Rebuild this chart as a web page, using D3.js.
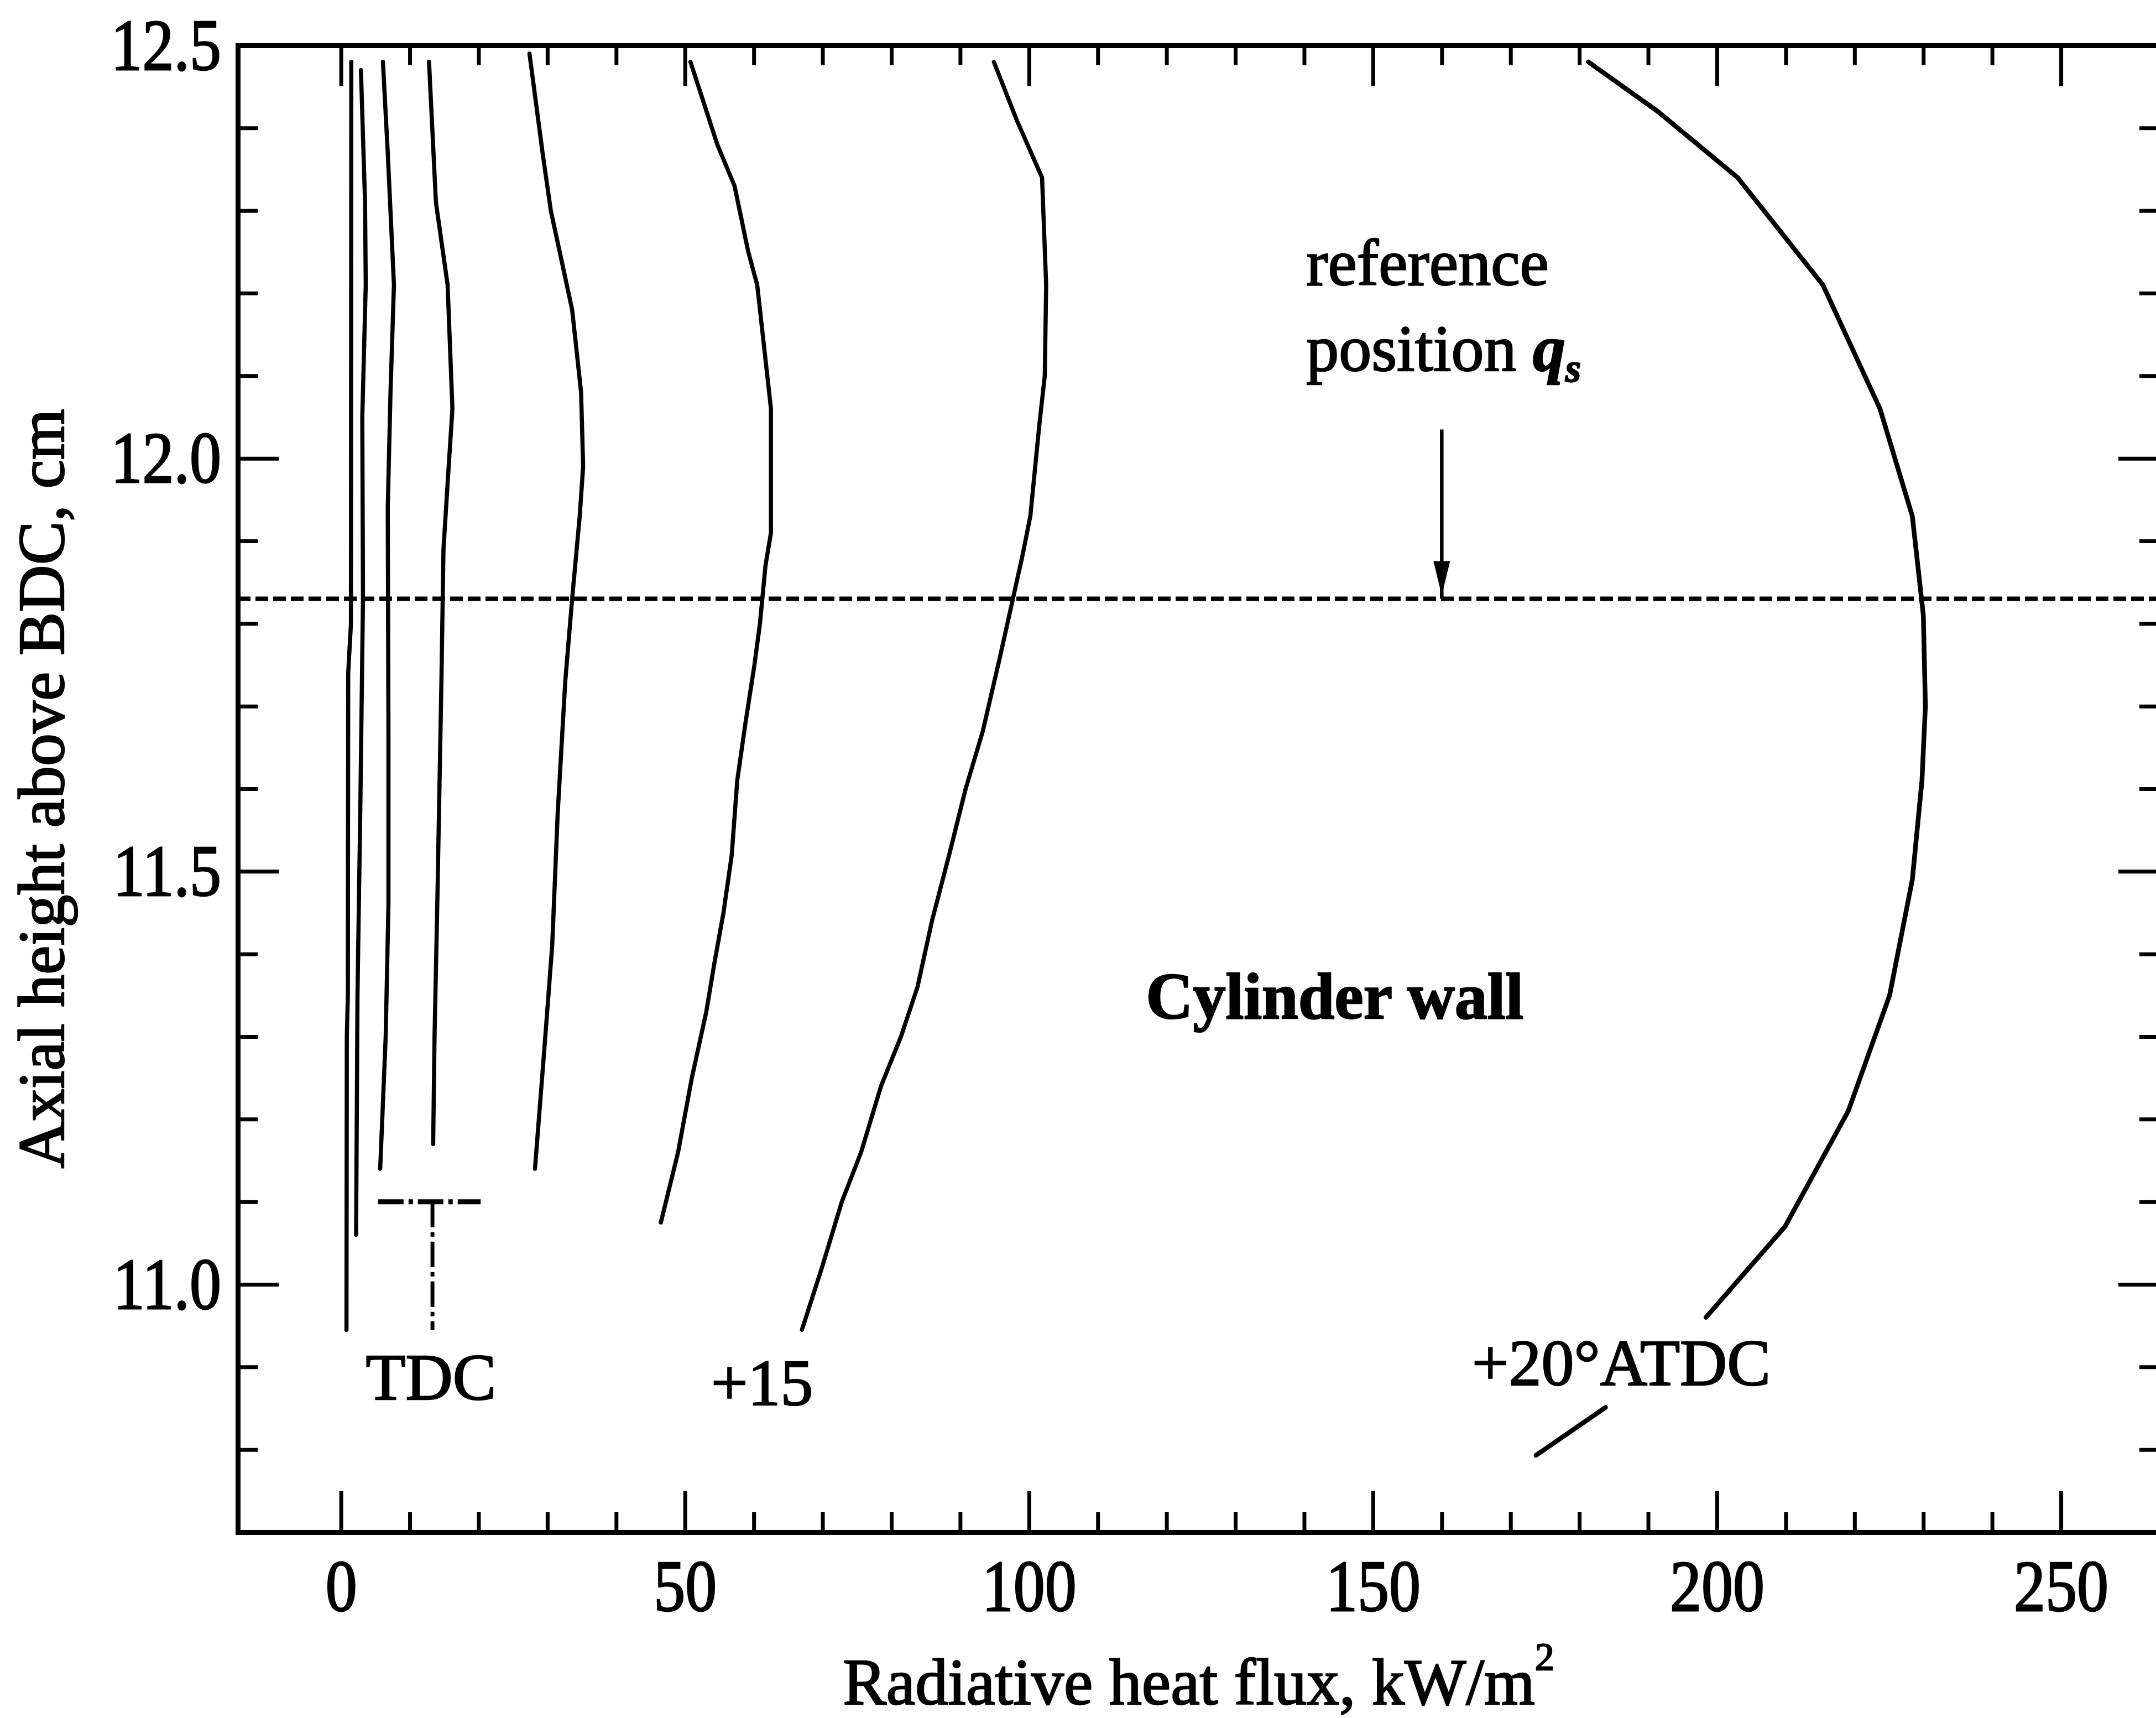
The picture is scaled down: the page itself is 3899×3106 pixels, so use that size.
<!DOCTYPE html>
<html>
<head>
<meta charset="utf-8">
<script src="https://cdn.jsdelivr.net/npm/d3@7"></script>
<style>
  html, body { margin: 0; padding: 0; background: #fff; }
  svg { display: block; }
</style>
</head>
<body>
<script>
// Axial radiative heat-flux profiles on the cylinder wall around TDC.
// Each profile is a list of [flux (kW/m^2), axial height above BDC (cm)].

const xMajorTicks = [0, 50, 100, 150, 200, 250];
const xMinorTicks = [10, 20, 30, 40, 60, 70, 80, 90, 110, 120, 130, 140,
                     160, 170, 180, 190, 210, 220, 230, 240];
const yMajorTicks = [11.0, 11.5, 12.0, 12.5];
const yMinorTicks = [10.8, 10.9, 11.1, 11.2, 11.3, 11.4, 11.6, 11.7, 11.8,
                     11.9, 12.1, 12.2, 12.3, 12.4];

const profileTDC = [[1.5, 12.48], [1.45, 11.80], [1.05, 11.74], [1.0, 11.35],
                    [0.85, 11.30], [0.8, 10.945]];
const profileB = [[2.9, 12.47], [3.5, 12.31], [3.6, 12.21], [3.1, 12.05],
                  [3.2, 11.83], [2.8, 11.57], [2.4, 11.35], [2.2, 11.06]];
const profileC = [[6.1, 12.48], [6.8, 12.37], [7.7, 12.21], [7.2, 12.08],
                  [6.8, 11.94], [6.9, 11.67], [6.9, 11.46], [6.5, 11.30], [5.7, 11.14]];
const profileD = [[12.8, 12.48], [13.8, 12.31], [15.5, 12.21], [16.2, 12.06],
                  [15.5, 11.97], [14.9, 11.89], [14.6, 11.73], [14.0, 11.46],
                  [13.6, 11.30], [13.4, 11.17]];
const profileE = [[27.4, 12.49], [29.3, 12.37], [30.5, 12.30], [33.6, 12.18],
                  [34.9, 12.08], [35.2, 11.99], [34.7, 11.93], [33.6, 11.83],
                  [32.6, 11.73], [31.5, 11.57], [30.7, 11.41], [29.7, 11.30], [28.2, 11.14]];
const profileF = [[50.8, 12.48], [54.7, 12.38], [57.2, 12.33], [59.2, 12.25],
                  [60.5, 12.21], [61.3, 12.15], [62.1, 12.09], [62.5, 12.06],
                  [62.5, 11.91], [61.7, 11.87], [60.9, 11.80], [60.1, 11.75],
                  [58.8, 11.68], [57.6, 11.61], [56.8, 11.52], [55.6, 11.45],
                  [54.3, 11.39], [53.1, 11.33], [51.0, 11.25], [49.0, 11.16], [46.5, 11.075]];
const profile15 = [[94.9, 12.48], [98.2, 12.41], [101.9, 12.34], [102.5, 12.21],
                   [102.3, 12.10], [101.5, 12.04], [100.2, 11.93], [99.0, 11.88],
                   [97.4, 11.82], [95.8, 11.76], [93.3, 11.67], [90.8, 11.60],
                   [88.4, 11.52], [85.9, 11.44], [83.8, 11.36], [81.4, 11.30],
                   [78.5, 11.24], [75.6, 11.16], [72.8, 11.10], [69.9, 11.02], [67.0, 10.945]];
// null marks the break where the curve passes behind its label
const profile20 = [[181.3, 12.48], [191.4, 12.42], [203.0, 12.34], [215.4, 12.21],
                   [223.7, 12.06], [228.4, 11.93], [230.0, 11.81], [230.3, 11.70],
                   [229.8, 11.61], [228.4, 11.49], [225.1, 11.35], [219.1, 11.21],
                   [209.9, 11.07], [198.4, 10.96], null, [183.8, 10.851], [173.7, 10.793]];

const referenceHeight = 11.83;          // axial position of q_s
const pistonMarkFlux = [5.4, 20.3];     // horizontal bar of the TDC marker
const pistonMarkStem = 13.3;
const pistonMarkHeights = [11.10, 10.945];

const W = 3899, H = 3106;
const FONT = "'Liberation Serif', 'Times New Roman', Times, serif";
const AXIS_W = 9, TICK_W = 7, LINE_W = 7.5;
const MAJOR = 74, MINOR = 36;
const INK = 2.4;   // extra outline weight on lettering

const x = d3.scaleLinear().domain([-15, 264.3]).range([430, 3905]);
const y = d3.scaleLinear().domain([10.7, 12.5]).range([2770, 82]);

const svg = d3.select("body").append("svg")
  .attr("width", W).attr("height", H)
  .attr("viewBox", `0 0 ${W} ${H}`)
  .style("color", "#000");

svg.append("rect").attr("width", W).attr("height", H).attr("fill", "#fff");

function styleAxis(g, keepDomain) {
  g.attr("font-family", FONT).attr("font-size", 114);
  if (keepDomain) {
    g.select(".domain").attr("stroke-width", AXIS_W).attr("stroke-linecap", "square");
  } else {
    g.select(".domain").remove();
  }
  g.selectAll(".tick line").attr("stroke-width", TICK_W);
  g.selectAll(".tick text").attr("stroke", "#000").attr("stroke-width", INK);
  return g;
}

// bottom axis
styleAxis(svg.append("g").attr("transform", `translate(0,${y(10.7)})`)
  .call(d3.axisBottom(x).tickValues(xMinorTicks).tickSize(-MINOR).tickSizeOuter(0).tickFormat("")), false);
const gBottom = styleAxis(svg.append("g").attr("transform", `translate(0,${y(10.7)})`)
  .call(d3.axisBottom(x).tickValues(xMajorTicks).tickSize(-MAJOR).tickSizeOuter(0)
    .tickFormat(d3.format("d"))), true);
gBottom.selectAll(".tick text")
  .attr("y", null).attr("dy", null)
  .attr("transform", "translate(0,142) scale(1,1.15)");

// top axis
styleAxis(svg.append("g").attr("transform", `translate(0,${y(12.5)})`)
  .call(d3.axisTop(x).tickValues(xMinorTicks).tickSize(-MINOR).tickSizeOuter(0).tickFormat("")), false);
styleAxis(svg.append("g").attr("transform", `translate(0,${y(12.5)})`)
  .call(d3.axisTop(x).tickValues(xMajorTicks).tickSize(-MAJOR).tickSizeOuter(0).tickFormat("")), true);

// left axis
styleAxis(svg.append("g").attr("transform", `translate(${x(-15)},0)`)
  .call(d3.axisLeft(y).tickValues(yMinorTicks).tickSize(-MINOR).tickSizeOuter(0).tickFormat("")), false);
const gLeft = styleAxis(svg.append("g").attr("transform", `translate(${x(-15)},0)`)
  .call(d3.axisLeft(y).tickValues(yMajorTicks).tickSize(-MAJOR).tickSizeOuter(0)
    .tickFormat(d3.format(".1f"))), true);
gLeft.selectAll(".tick text")
  .attr("x", null).attr("dy", null)
  .attr("transform", "translate(-30,43) scale(1,1.15)");

// right axis
styleAxis(svg.append("g").attr("transform", `translate(${x(264.3)},0)`)
  .call(d3.axisRight(y).tickValues(yMinorTicks).tickSize(-MINOR).tickSizeOuter(0).tickFormat("")), false);
styleAxis(svg.append("g").attr("transform", `translate(${x(264.3)},0)`)
  .call(d3.axisRight(y).tickValues(yMajorTicks.filter(v => v < 12.5)).tickSize(-MAJOR)
    .tickSizeOuter(0).tickFormat("")), true);

// reference position line
svg.append("line")
  .attr("x1", x(-15)).attr("x2", x(264.3))
  .attr("y1", y(referenceHeight)).attr("y2", y(referenceHeight))
  .attr("stroke", "#000").attr("stroke-width", 8)
  .attr("stroke-dasharray", "23 9");

// flux profiles
const line = d3.line()
  .defined(d => d !== null)
  .x(d => x(d[0]))
  .y(d => y(d[1]));

const profiles = [profileTDC, profileB, profileC, profileD, profileE, profileF, profile15];
svg.append("g").selectAll("path").data(profiles).join("path")
  .attr("d", line)
  .attr("fill", "none").attr("stroke", "#000")
  .attr("stroke-width", LINE_W)
  .attr("stroke-linejoin", "round").attr("stroke-linecap", "round");

svg.append("path").datum(profile20)
  .attr("d", line)
  .attr("fill", "none").attr("stroke", "#000")
  .attr("stroke-width", 8.5)
  .attr("stroke-linejoin", "round").attr("stroke-linecap", "round");

// piston marker at TDC (dash-dot)
const markStyle = sel => sel.attr("stroke", "#000")
  .attr("stroke-dasharray", "46 9 8 9");
svg.append("line")
  .attr("x1", x(pistonMarkFlux[0])).attr("x2", x(pistonMarkFlux[1]))
  .attr("y1", y(pistonMarkHeights[0])).attr("y2", y(pistonMarkHeights[0]))
  .attr("stroke-width", 9)
  .call(markStyle);
svg.append("line")
  .attr("x1", x(pistonMarkStem)).attr("x2", x(pistonMarkStem))
  .attr("y1", y(pistonMarkHeights[0])).attr("y2", y(pistonMarkHeights[1]))
  .attr("stroke-width", 7)
  .call(markStyle);

// arrow pointing at the reference position
const ax = x(160);
const tipY = y(referenceHeight) - 6;
svg.append("line")
  .attr("x1", ax).attr("x2", ax)
  .attr("y1", y(12.035)).attr("y2", y(referenceHeight))
  .attr("stroke", "#000").attr("stroke-width", 6.5);
svg.append("path")
  .attr("d", `M${ax},${tipY} L${ax - 15},${tipY - 62} L${ax + 15},${tipY - 62} Z`)
  .attr("fill", "#000");

// annotations
const text = (px, py, str, opts = {}) => svg.append("text")
  .attr("x", px).attr("y", py)
  .attr("font-family", FONT).attr("font-size", opts.size || 118)
  .attr("font-weight", opts.weight || "normal")
  .attr("text-anchor", opts.anchor || "start")
  .attr("fill", "#000").attr("stroke", "#000").attr("stroke-width", INK)
  .text(str);

text(x(140.3), y(12.21), "reference");
const pos = text(x(140.3), y(12.106), "position ");
pos.append("tspan").attr("font-style", "italic").attr("font-weight", "bold").text("q");
pos.append("tspan").attr("font-style", "italic").attr("font-weight", "bold")
  .attr("font-size", 72).attr("dy", 20).text("s");

text(x(117), y(11.322), "Cylinder wall", { weight: "bold" });
text(x(3.6), y(10.861), "TDC");
text(x(53.8), y(10.854), "+15");
text(x(164.4), y(10.878), "+20°ATDC");

// axis titles
const xTitle = text((x(-15) + x(264.3)) / 2, 3081, "Radiative heat flux, kW/m", { anchor: "middle" });
xTitle.append("tspan").attr("font-size", 70).attr("dy", -62).text("2");

svg.append("text")
  .attr("transform", `translate(115,${(y(10.7) + y(12.5)) / 2}) rotate(-90)`)
  .attr("font-family", FONT).attr("font-size", 118)
  .attr("text-anchor", "middle")
  .attr("fill", "#000").attr("stroke", "#000").attr("stroke-width", INK)
  .text("Axial height above BDC, cm");
</script>
</body>
</html>
